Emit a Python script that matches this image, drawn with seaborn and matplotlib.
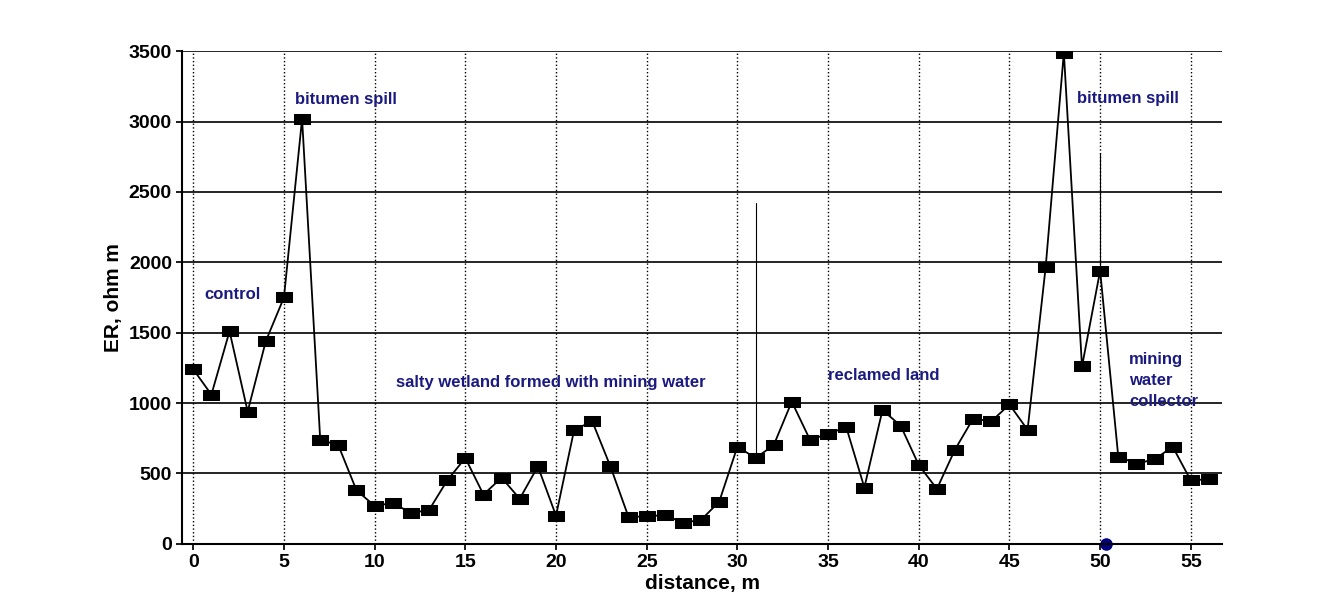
import numpy as np
import pandas as pd
import matplotlib
matplotlib.use('Agg')
import matplotlib.pyplot as plt
import seaborn as sns
from matplotlib.path import Path

distance = list(range(57))
er = [1240, 1060, 1510, 940, 1440, 1750, 3020, 740, 700, 380,
      270, 290, 220, 240, 450, 610, 350, 470, 320, 550,
      200, 810, 870, 550, 190, 195, 205, 150, 170, 300,
      690, 610, 700, 1010, 740, 780, 830, 400, 950, 840,
      560, 390, 670, 890, 870, 990, 810, 1970, 3490, 1260,
      1940, 620, 570, 600, 690, 450, 460]

labels = [("control", 0.6, 1720), ("bitumen spill", 5.6, 3100),
          ("salty wetland formed with mining water", 11.2, 1090),
          ("reclamed land", 35.0, 1140), ("bitumen spill", 48.7, 3110),
          ("mining\nwater\ncollector", 51.6, 960)]

sns.set_theme(style="white")
plt.rcParams['font.family'] = ['Liberation Sans', 'DejaVu Sans']

df = pd.DataFrame({"distance": distance, "er": er})
rect = Path([(-1, -0.55), (1, -0.55), (1, 0.55), (-1, 0.55), (-1, -0.55)],
            [Path.MOVETO, Path.LINETO, Path.LINETO, Path.LINETO, Path.CLOSEPOLY])

fig = plt.figure(figsize=(13.41, 6.09), dpi=100)
ax = fig.add_axes([0.136, 0.107, 0.775, 0.809])
sns.lineplot(data=df, x="distance", y="er", ax=ax, color="black", linewidth=1.3,
             marker=rect, markersize=12, markeredgecolor="black", markerfacecolor="black")

ax.set_xlim(-0.6, 56.7)
ax.set_ylim(0, 3500)
ax.set_xticks(range(0, 56, 5))
ax.set_yticks(range(0, 3501, 500))
for x in range(0, 56, 5):
    ax.axvline(x, color="black", linestyle=":", linewidth=1)
for y in range(500, 3501, 500):
    ax.axhline(y, color="black", linewidth=1.2)
ax.plot([31, 31], [600, 2420], color="black", linewidth=0.8)
ax.plot([50, 50], [1940, 2780], color="black", linewidth=0.8)
ax.plot([50.3], [0], "o", color="navy", markersize=8, clip_on=False)

for s in ax.spines.values():
    s.set_visible(False)
for side in ("left", "bottom"):
    ax.spines[side].set_visible(True)
    ax.spines[side].set_color("black")
    ax.spines[side].set_linewidth(1.5)
ax.tick_params(labelsize=14, length=4, left=True, bottom=True, color="black",
               labelcolor="black")
for t in ax.get_xticklabels() + ax.get_yticklabels():
    t.set_fontweight("bold")

ax.set_xlabel("distance, m", fontsize=15, fontweight="bold", labelpad=2, color="black")
ax.set_ylabel("ER, ohm m", fontsize=15, fontweight="bold", color="black")

for text, x, y in labels:
    ax.text(x, y, text, color="#1a1a80", fontsize=12, fontweight="bold", va="bottom",
            linespacing=1.5)

fig.savefig("out.png", dpi=100)
